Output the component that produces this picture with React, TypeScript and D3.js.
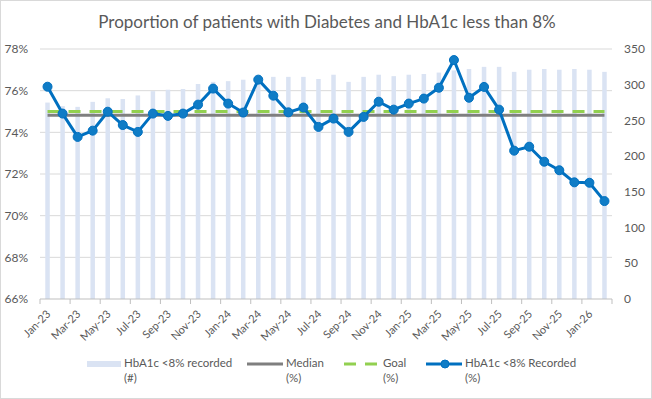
import React from "react";
import * as d3 from "d3";

const months = [
  "Jan-23", "Feb-23", "Mar-23", "Apr-23", "May-23", "Jun-23", "Jul-23", "Aug-23", "Sep-23", "Oct-23", "Nov-23", "Dec-23",
  "Jan-24", "Feb-24", "Mar-24", "Apr-24", "May-24", "Jun-24", "Jul-24", "Aug-24", "Sep-24", "Oct-24", "Nov-24", "Dec-24",
  "Jan-25", "Feb-25", "Mar-25", "Apr-25", "May-25", "Jun-25", "Jul-25", "Aug-25", "Sep-25", "Oct-25", "Nov-25", "Dec-25",
  "Jan-26", "Feb-26",
];

// count of patients with HbA1c < 8% (right axis)
const recordedCount = [
  275, 270, 269, 276, 281, 280, 285, 291, 293, 294, 301, 304,
  305, 307, 309, 311, 311, 311, 308, 314, 304, 311, 314, 312,
  314, 315, 317, 320, 322, 325, 325, 318, 321, 322, 321, 322,
  321, 318,
];

// proportion (left axis, %)
const recordedPct = [
  76.19, 74.9, 73.78, 74.08, 74.99, 74.35, 74.02, 74.9, 74.79, 74.9, 75.33, 76.1,
  75.38, 74.95, 76.53, 75.76, 74.96, 75.19, 74.26, 74.66, 74.02, 74.74, 75.47, 75.09,
  75.38, 75.62, 76.14, 77.47, 75.66, 76.18, 75.09, 73.12, 73.31, 72.59, 72.18, 71.6,
  71.58, 70.7,
];

const medianPct = 74.82;
const goalPct = 75;

const leftTicks = [66, 68, 70, 72, 74, 76, 78];
const rightTicks = [0, 50, 100, 150, 200, 250, 300, 350];

const W = 652;
const H = 399;
const margin = { top: 49, right: 40, bottom: 100, left: 40 };
const font = "Lato, 'Open Sans', sans-serif";
const textColor = "#595959";

export default function App() {
  const x = d3
    .scaleBand()
    .domain(months)
    .range([margin.left, W - margin.right])
    .paddingInner(0.7)
    .paddingOuter(0.35);
  const step = x.step();
  const cx = (m: string) => (x(m) as number) + x.bandwidth() / 2;

  const yL = d3.scaleLinear().domain([66, 78]).range([H - margin.bottom, margin.top]);
  const yR = d3.scaleLinear().domain([0, 350]).range([H - margin.bottom, margin.top]);

  const line = d3
    .line<number>()
    .x((_, i) => cx(months[i]))
    .y((d) => yL(d));

  const x0 = cx(months[0]);
  const x1 = cx(months[months.length - 1]);
  const plotL = margin.left;
  const plotR = W - margin.right;
  const baseY = H - margin.bottom;

  return (
    <svg width={W} height={H} style={{ position: "absolute", left: 0, top: 0 }} fontFamily={font}>
      <rect x={0.5} y={0.5} width={W - 1} height={H - 1} fill="#fff" stroke="#d9d9d9" />
      <text x={327} y={28} textAnchor="middle" fontSize={17} fill={textColor}>
        Proportion of patients with Diabetes and HbA1c less than 8%
      </text>

      {leftTicks.map((t) => (
        <g key={t}>
          {t !== 66 && <line x1={plotL} x2={plotR} y1={yL(t)} y2={yL(t)} stroke="#d9d9d9" />}
          <text x={28} y={yL(t)} dy="0.35em" textAnchor="end" fontSize={12} fill={textColor}>
            {t}%
          </text>
        </g>
      ))}
      {rightTicks.map((t) => (
        <text key={t} x={624} y={yR(t)} dy="0.35em" textAnchor="start" fontSize={12} fill={textColor}>
          {t}
        </text>
      ))}

      {months.map((m, i) => (
        <rect
          key={m}
          x={x(m)}
          y={yR(recordedCount[i])}
          width={x.bandwidth()}
          height={baseY - yR(recordedCount[i])}
          fill="#dae3f3"
        />
      ))}

      <line x1={plotL} x2={plotR} y1={baseY} y2={baseY} stroke="#bfbfbf" />
      {months.map((m, i) =>
        i % 2 === 0 ? (
          <g key={m}>
            <line x1={cx(m) - step / 2} x2={cx(m) - step / 2} y1={baseY} y2={baseY + 5} stroke="#bfbfbf" />
            <text
              transform={`translate(${cx(m) + 1},${baseY + 13}) rotate(-45)`}
              textAnchor="end"
              dy="0.35em"
              fontSize={11}
              fill={textColor}
            >
              {m}
            </text>
          </g>
        ) : null
      )}
      <line x1={plotR} x2={plotR} y1={baseY} y2={baseY + 5} stroke="#bfbfbf" />

      <line x1={x0} x2={x1} y1={yL(medianPct)} y2={yL(medianPct)} stroke="#7f7f7f" strokeWidth={3} />
      <line
        x1={x0}
        x2={x1}
        y1={yL(goalPct)}
        y2={yL(goalPct)}
        stroke="#92d050"
        strokeWidth={3}
        strokeDasharray="12 9"
      />

      <path d={line(recordedPct) ?? ""} fill="none" stroke="#0070c0" strokeWidth={3} strokeLinejoin="round" />
      {recordedPct.map((v, i) => (
        <circle key={i} cx={cx(months[i])} cy={yL(v)} r={4.5} fill="#0f7cc6" stroke="#0070c0" strokeWidth={1} />
      ))}

      {/* legend */}
      <g fontSize={11.5} fill={textColor}>
        <rect x={87} y={361} width={34} height={6} fill="#dae3f3" />
        <text x={124} y={367}>HbA1c &lt;8% recorded</text>
        <text x={124} y={382}>(#)</text>

        <line x1={247} x2={283} y1={364} y2={364} stroke="#7f7f7f" strokeWidth={3} />
        <text x={286} y={367}>Median</text>
        <text x={286} y={382}>(%)</text>

        <line x1={344} x2={377} y1={364} y2={364} stroke="#92d050" strokeWidth={3} strokeDasharray="12 9" />
        <text x={383} y={367}>Goal</text>
        <text x={383} y={382}>(%)</text>

        <line x1={426} x2={462} y1={364} y2={364} stroke="#0070c0" strokeWidth={3} />
        <circle cx={445} cy={364} r={4} fill="#0f7cc6" stroke="#0070c0" />
        <text x={465} y={367}>HbA1c &lt;8% Recorded</text>
        <text x={465} y={382}>(%)</text>
      </g>
    </svg>
  );
}
